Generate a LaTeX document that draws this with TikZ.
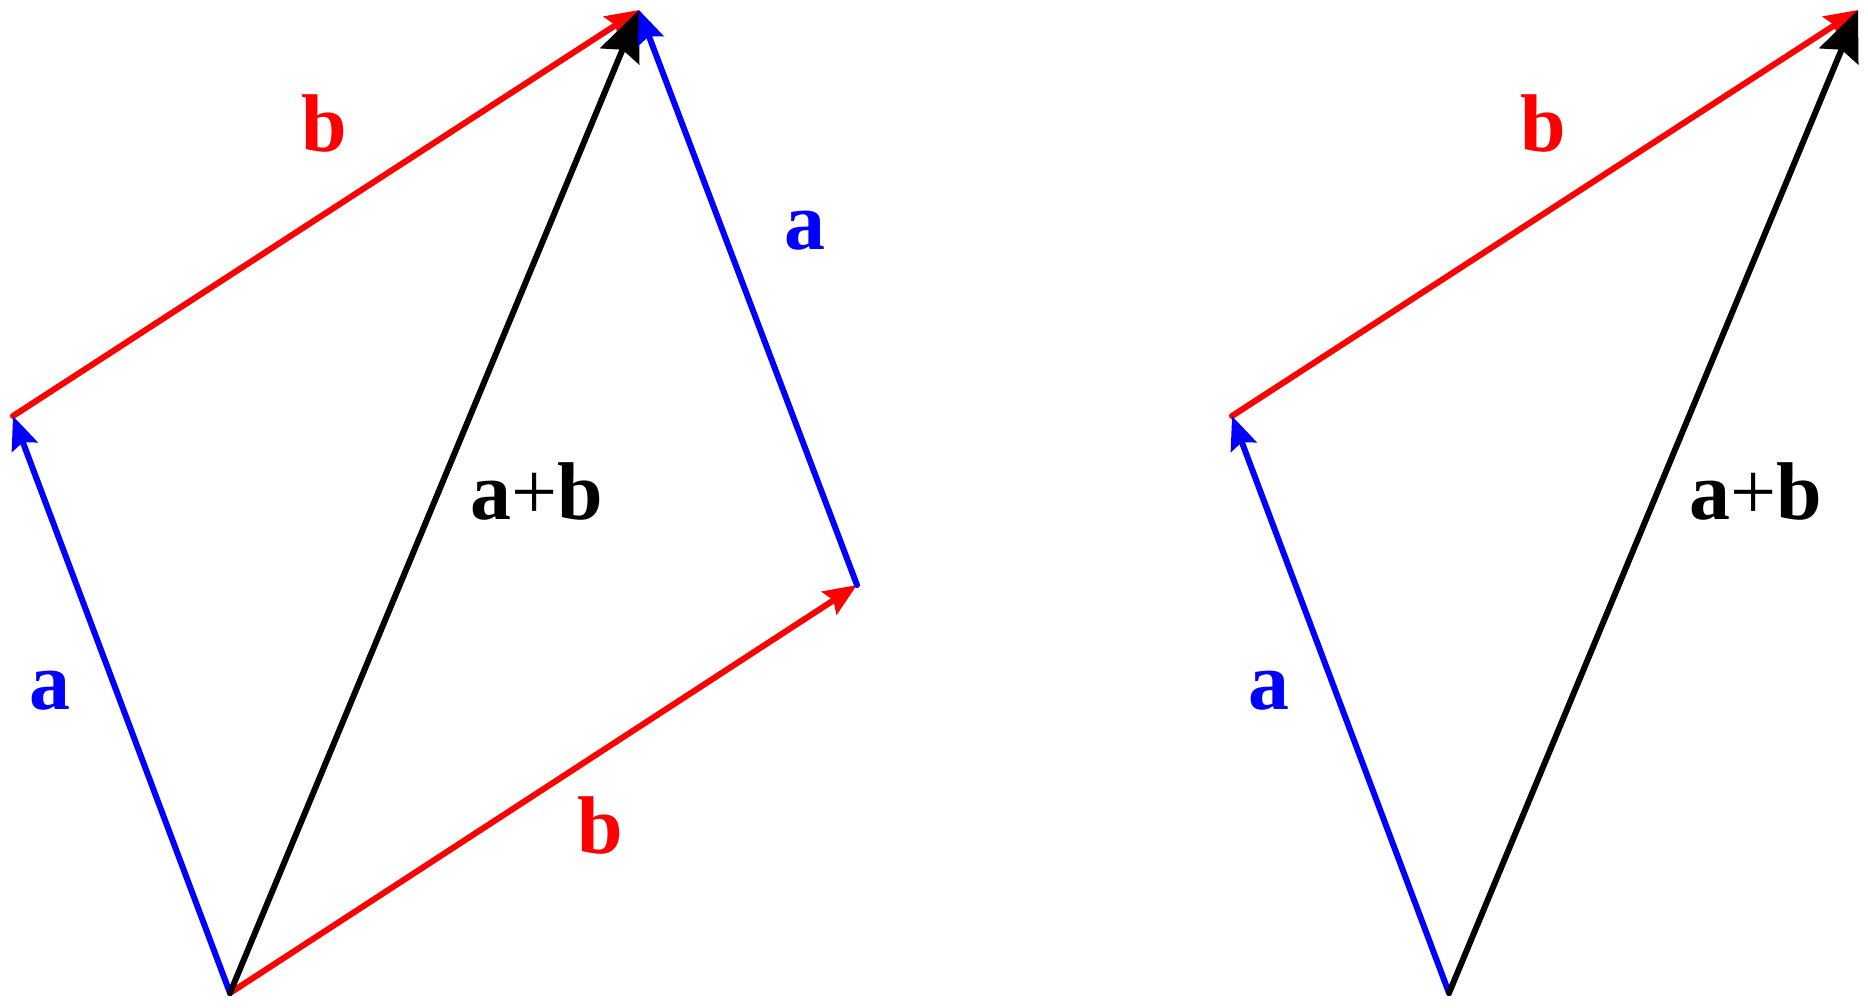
\documentclass[tikz,border=0pt]{standalone}
\usepackage{fontspec}
\setmainfont{Liberation Serif}
\usepackage{tikz}
\usetikzlibrary{arrows.meta, calc}
\tikzstyle{vec} = [line width=0.06cm, line cap=round, -{Stealth[length=0.33cm, width=0.27cm, inset=0.05cm]}]
\tikzstyle{sumvec} = [line width=0.06cm, line cap=round, -{Stealth[length=0.5cm, width=0.42cm, inset=0.07cm]}]
\tikzstyle{lbl} = [anchor=base, inner sep=0pt, font=\fontsize{23.3}{28}\selectfont\bfseries]

\begin{document}
\begin{tikzpicture}
                \useasboundingbox (0,0) rectangle (18.68,10.07);
                % parallelogram
                \coordinate (O) at (2.30,0.14);
                \coordinate (A) at (0.13,5.91);
                \coordinate (B) at (8.57,4.22);
                \coordinate (S) at (6.39,9.97);
                % triangle
                \coordinate (O2) at ($(O)+(12.19,0)$);
                \coordinate (A2) at ($(A)+(12.19,0)$);
                \coordinate (S2) at ($(S)+(12.19,0)$);

                \draw [vec, red] (O) -- (B);
                \draw [vec, red] (A) -- (S);
                \draw [vec, blue] (O) -- (A);
                \draw [sumvec, black] (O) -- (S);
                \draw [vec, blue] (B) -- (S);

                \draw [vec, red] (A2) -- (S2);
                \draw [vec, blue] (O2) -- (A2);
                \draw [sumvec, black] (O2) -- (S2);

                \node (btop) [lbl, red] at (3.24,8.55) {b};
                \node (aright) [lbl, blue] at (8.05,7.57) {a};
                \node (sum) [lbl] at (5.37,4.87) {a\textmd{+}b};
                \node (aleft) [lbl, blue] at (0.50,2.98) {a};
                \node (bbot) [lbl, red] at (6.00,1.54) {b};

                \node (btop2) [lbl, red] at (15.43,8.55) {b};
                \node (aleft2) [lbl, blue] at (12.69,2.98) {a};
                \node (sum2) [lbl] at (17.56,4.87) {a\textmd{+}b};
\end{tikzpicture}
\end{document}
